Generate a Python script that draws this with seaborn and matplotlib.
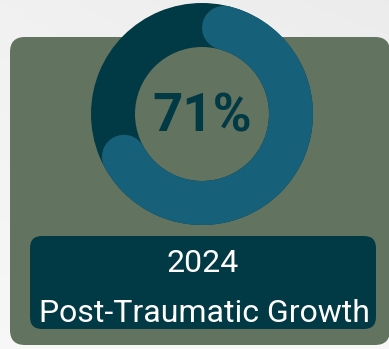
import numpy as np
import matplotlib
matplotlib.use("Agg")
import matplotlib.pyplot as plt
from matplotlib.patches import FancyBboxPatch, Wedge
import seaborn as sns

# ---- data ----
year = "2024"
metric = "Post-Traumatic Growth"
value = 71          # percent
total = 100

sns.set_theme(style="white")
plt.rcParams['font.family'] = ['Roboto', 'DejaVu Sans']

W, H = 389, 349
fig = plt.figure(figsize=(W / 100, H / 100), dpi=100)
ax = fig.add_axes([0, 0, 1, 1])
ax.set_xlim(0, W)
ax.set_ylim(H, 0)
ax.set_aspect('equal')
ax.axis('off')

# background gradient
grad = np.linspace(0, 1, 200)[:, None] * np.ones((1, 200))
xg = np.linspace(0, 1, 200)[None, :]
bg = 0.925 + 0.045 * grad + 0.02 * (1 - xg) * (1 - grad)
bg = np.clip(bg, 0, 1)
ax.imshow(np.dstack([bg, bg, bg]), extent=[0, W, H, 0], zorder=0, aspect='auto')

DARK = "#013a44"
BLUE = "#17607a"
PANEL = "#627360"

# panel
ax.add_patch(FancyBboxPatch((10 + 15, 37 + 15), 380 - 10 - 30 + 10, 345 - 37 - 30,
                            boxstyle="round,pad=15", fc=PANEL, ec='none', zorder=1))

# donut
cx, cy = 202, 114
r_out, r_in = 111, 67
ax.add_patch(Wedge((cx, cy), r_out, 0, 360, width=r_out - r_in, fc=DARK, ec='none', zorder=2))

r_mid = (r_out + r_in) / 2
ring_w_px = r_out - r_in
cap_deg = np.degrees(np.arcsin((ring_w_px / 2) / r_mid))
end_deg = value / total * 360
theta = np.radians(np.linspace(cap_deg, end_deg - cap_deg, 300))
xs = cx + r_mid * np.sin(theta)
ys = cy - r_mid * np.cos(theta)
ax.plot(xs, ys, color=BLUE, lw=ring_w_px * 72 / 100, solid_capstyle='round', zorder=3)

ax.text(cx, 132, f"{value}%", ha='center', va='baseline', fontsize=38,
        fontweight='bold', color=DARK, zorder=4)

# label box
ax.add_patch(FancyBboxPatch((30 + 12, 236 + 12), 376 - 30 - 24, 329 - 236 - 24,
                            boxstyle="round,pad=12", fc=DARK, ec='none', zorder=2))
ax.text(203, 272, year, ha='center', va='baseline', fontsize=23, color='white', zorder=4)
ax.text(204, 322, metric, ha='center', va='baseline', fontsize=23, color='white', zorder=4)

fig.savefig("out.png", dpi=100)
